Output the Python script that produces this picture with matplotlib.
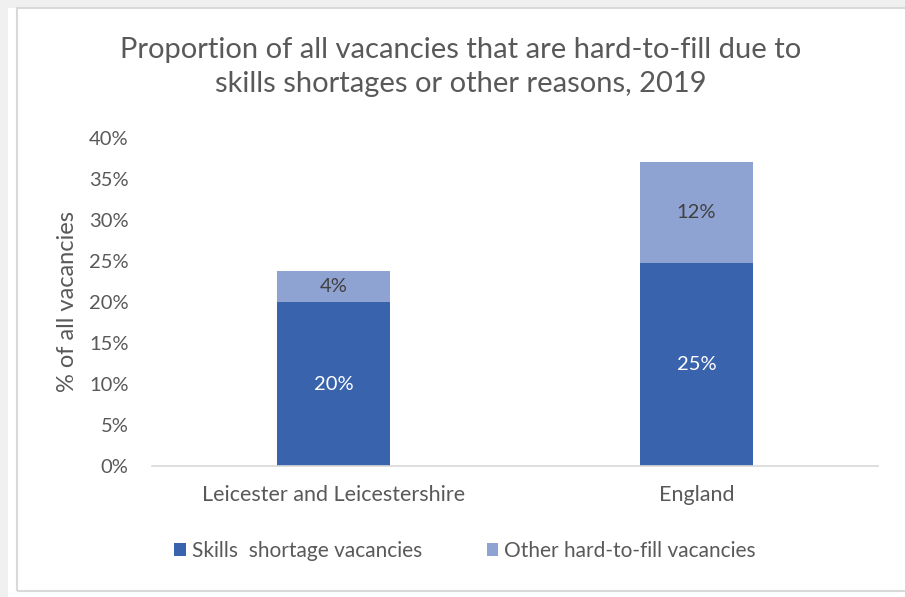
import matplotlib.pyplot as plt
from matplotlib.patches import Rectangle

areas = ["Leicester and Leicestershire", "England"]
skills_shortage = [20.0, 24.8]
other_hard_to_fill = [3.8, 12.3]
y_ticks = [0, 5, 10, 15, 20, 25, 30, 35, 40]

DARK = "#3a63ad"
LIGHT = "#8fa3d3"
TEXT = "#595959"

plt.rcParams["font.family"] = ["Lato", "DejaVu Sans"]

fig = plt.figure(figsize=(9.05, 5.97), dpi=100)
fig.patch.set_facecolor("#f0f0f0")

# white chart area with thin grey frame
fig.patches.append(Rectangle((8 / 905, 0), 1, 589 / 597, transform=fig.transFigure,
                             facecolor="white", edgecolor="none", zorder=0))
fig.patches.append(Rectangle((16.5 / 905, 6 / 597), 1, 583 / 597, transform=fig.transFigure,
                             facecolor="none", edgecolor="#d9d9d9", lw=1.5, zorder=1))

ax = fig.add_axes([152 / 905, (597 - 466) / 597, 726 / 905, 328 / 597])
ax.set_zorder(3)
ax.set_facecolor("white")

x = list(range(len(areas)))
w = 0.31
b1 = ax.bar(x, skills_shortage, width=w, color=DARK, label="Skills  shortage vacancies", zorder=2)
b2 = ax.bar(x, other_hard_to_fill, width=w, bottom=skills_shortage, color=LIGHT,
            label="Other hard-to-fill vacancies", zorder=2)

for rect, v in zip(b1, skills_shortage):
    ax.text(rect.get_x() + rect.get_width() / 2, rect.get_y() + v / 2, f"{v:.0f}%",
            ha="center", va="center", color="white", fontsize=14.5)
for rect, v in zip(b2, other_hard_to_fill):
    ax.text(rect.get_x() + rect.get_width() / 2, rect.get_y() + v / 2, f"{v:.0f}%",
            ha="center", va="center", color="#404040", fontsize=14.5)

ax.set_xlim(-0.5, 1.5)
ax.set_ylim(0, 40)
ax.set_yticks(y_ticks)
ax.set_yticklabels([f"{t}%" for t in y_ticks])
ax.set_xticks(x)
ax.set_xticklabels(areas)
ax.tick_params(axis="both", length=0, colors=TEXT)
ax.tick_params(axis="y", pad=17, labelsize=14.5)
ax.tick_params(axis="x", pad=14, labelsize=15.5)

for side in ["top", "right", "left"]:
    ax.spines[side].set_visible(False)
ax.spines["bottom"].set_color("#d9d9d9")
ax.spines["bottom"].set_linewidth(1.2)

ax.set_ylabel("% of all vacancies", color=TEXT, fontsize=17)
ax.yaxis.set_label_coords(-(152 - 78) / 726, 0.5)

fig.text(461 / 905, 1 - 67 / 597,
         "Proportion of all vacancies that are hard-to-fill due to\nskills shortages or other reasons, 2019",
         ha="center", va="center", fontsize=21, color=TEXT, linespacing=1.42)

fig.legend(handles=[b1, b2], loc="center", bbox_to_anchor=(465 / 905, 1 - 551 / 597),
           ncol=2, frameon=False, fontsize=15, labelcolor=TEXT, handlelength=0.55,
           handleheight=0.55, handletextpad=0.3, columnspacing=3.1)

fig.savefig("out.png", dpi=100, facecolor=fig.get_facecolor())
